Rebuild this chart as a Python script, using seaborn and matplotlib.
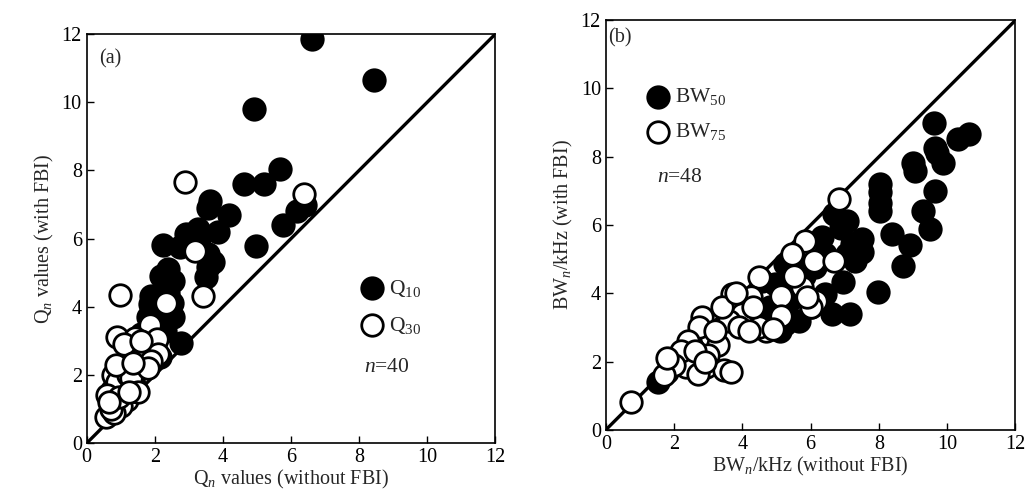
import matplotlib
matplotlib.use("Agg")
import matplotlib.pyplot as plt
import seaborn as sns
import pandas as pd

# ---------------- data ----------------
q10_x = [6.63, 8.43, 4.90, 5.68, 4.61, 5.21, 3.61, 3.56, 4.19, 5.75, 6.19, 4.97, 2.24, 2.92,
         3.26, 3.85, 2.73, 3.56, 3.56, 3.51, 2.39, 2.19, 2.53, 1.90, 1.85, 2.53, 2.19, 2.78,
         2.14, 2.00, 2.40, 1.80, 3.70, 3.30, 2.30, 2.50, 1.60, 2.00, 1.40, 6.40]
q10_y = [11.86, 10.66, 9.79, 8.03, 7.61, 7.59, 7.11, 6.91, 6.69, 6.40, 6.81, 5.79, 5.82, 6.13,
         6.28, 6.18, 5.74, 5.55, 5.16, 4.86, 5.11, 4.91, 4.77, 4.33, 4.08, 3.69, 3.60, 2.93,
         2.52, 3.90, 4.40, 3.70, 5.30, 6.00, 3.30, 4.10, 3.20, 2.90, 2.00, 7.00]
q30_x = [2.90, 6.38, 3.17, 3.41, 0.99, 2.32, 1.85, 0.90, 1.41, 2.07, 2.10, 1.17, 1.48, 1.02,
         0.78, 1.41, 0.73, 1.07, 1.17, 0.73, 0.58, 1.30, 1.60, 0.90, 1.20, 0.60, 1.00, 1.30,
         0.80, 1.50, 0.70, 1.90, 1.10, 0.95, 1.25, 0.65, 1.60, 1.80, 0.85, 1.35]
q30_y = [7.66, 7.32, 5.64, 4.33, 4.35, 4.10, 3.48, 3.11, 3.08, 3.06, 2.62, 2.43, 2.28, 2.18,
         1.99, 1.65, 1.55, 1.65, 1.26, 1.16, 0.77, 2.60, 2.50, 1.80, 2.00, 1.40, 1.10, 1.90,
         0.90, 1.50, 1.00, 2.40, 2.90, 1.35, 1.50, 1.20, 3.00, 2.20, 2.30, 2.35]

bw50_x = [9.61, 10.65, 10.31, 9.63, 9.70, 9.87, 9.00, 9.05, 9.63, 8.03, 8.03, 8.03, 8.03, 9.29,
          9.49, 8.37, 8.90, 8.71, 7.98, 7.06, 6.67, 7.49, 7.20, 7.06, 7.30, 6.96, 6.33, 6.43,
          6.14, 6.62, 7.16, 5.26, 4.97, 4.58, 5.36, 5.26, 5.09, 6.43, 5.65, 1.52, 5.80, 6.90,
          5.50, 6.00, 4.80, 5.60, 7.50, 1.80]
bw50_y = [9.00, 8.66, 8.52, 8.27, 8.10, 7.83, 7.83, 7.59, 7.00, 7.20, 6.96, 6.66, 6.42, 6.42,
          5.88, 5.74, 5.42, 4.81, 4.03, 6.13, 6.32, 5.59, 5.44, 5.15, 4.96, 4.32, 5.64, 5.15,
          4.76, 3.40, 3.40, 4.86, 4.27, 4.37, 3.79, 3.10, 2.91, 3.98, 3.20, 1.40, 4.50, 5.90,
          5.00, 3.60, 3.60, 4.20, 5.20, 1.70]
bw75_x = [6.82, 5.84, 5.46, 6.09, 6.67, 4.49, 5.75, 5.12, 6.17, 6.02, 5.12, 3.71, 3.90, 4.10,
          4.24, 4.68, 4.39, 2.83, 3.08, 2.74, 2.40, 1.91, 2.35, 2.93, 3.47, 2.69, 3.66, 0.75,
          4.00, 3.60, 4.50, 2.20, 2.00, 3.30, 3.00, 4.90, 3.90, 4.30, 3.40, 2.60, 1.70, 5.90,
          4.20, 3.20, 5.50, 2.90, 3.80, 1.80]
bw75_y = [6.76, 5.54, 5.15, 4.96, 4.96, 4.49, 4.18, 3.93, 3.79, 3.59, 3.35, 3.98, 3.69, 3.30,
          3.88, 2.91, 3.10, 3.30, 2.71, 3.00, 2.61, 2.03, 1.83, 1.83, 1.74, 1.64, 1.69, 0.81,
          3.40, 3.20, 3.00, 2.30, 1.90, 2.50, 2.20, 2.95, 3.00, 3.60, 3.60, 2.30, 1.60, 3.90,
          2.90, 2.90, 4.50, 2.00, 4.00, 2.10]

ticks = [0, 2, 4, 6, 8, 10, 12]

# ---------------- style ----------------
sns.set_theme(style="ticks")
plt.rcParams["font.family"] = ["Liberation Serif", "DejaVu Serif"]
plt.rcParams["mathtext.fontset"] = "custom"
plt.rcParams["mathtext.rm"] = "Liberation Serif"
plt.rcParams["mathtext.it"] = "Liberation Serif:italic"
plt.rcParams["xtick.direction"] = "in"
plt.rcParams["ytick.direction"] = "in"

fig = plt.figure(figsize=(10.32, 4.93), dpi=100)
axA = fig.add_axes([0.084, 0.101, 0.396, 0.830])
axB = fig.add_axes([0.587, 0.128, 0.397, 0.831])

S = 240
LW = 2.0
FS = 14.5


def draw(ax, fx, fy, flabel, hx, hy, hlabel):
    dfF = pd.DataFrame({"x": fx, "y": fy})
    dfH = pd.DataFrame({"x": hx, "y": hy})
    sns.scatterplot(data=dfF, x="x", y="y", ax=ax, s=S, color="black",
                    edgecolor="black", linewidth=LW, label=flabel, zorder=3)
    sns.scatterplot(data=dfH, x="x", y="y", ax=ax, s=S, facecolor="white",
                    edgecolor="black", linewidth=LW, label=hlabel, zorder=4)
    ax.axline((0, 0), slope=1, color="black", lw=2.4, zorder=2)
    ax.set_xlim(0, 12)
    ax.set_ylim(0, 12)
    ax.set_xticks(ticks)
    ax.set_yticks(ticks)
    ax.tick_params(labelsize=FS, length=5, width=1, colors="black")
    for sp in ax.spines.values():
        sp.set_linewidth(1.2)
        sp.set_color("black")
        sp.set_visible(True)


draw(axA, q10_x, q10_y, "Q$_{10}$", q30_x, q30_y, "Q$_{30}$")
draw(axB, bw50_x, bw50_y, "BW$_{50}$", bw75_x, bw75_y, "BW$_{75}$")

axA.set_xlabel("Q$_n$ values (without FBI)", fontsize=FS, labelpad=1)
axA.set_ylabel("Q$_n$ values (with FBI)", fontsize=FS)
axB.set_xlabel("BW$_n$/kHz (without FBI)", fontsize=FS, labelpad=1)
axB.set_ylabel("BW$_n$/kHz (with FBI)", fontsize=FS)

legA = axA.legend(loc="upper left", bbox_to_anchor=(0.635, 0.425), frameon=False,
                  fontsize=FS + 1, handletextpad=0.0, labelspacing=0.75, markerscale=1.0,
                  handlelength=1.6, borderaxespad=0)
axA.text(0.735, 0.185, "$n$=40", transform=axA.transAxes, fontsize=FS + 1,
         ha="center", va="center")
axA.text(0.03, 0.94, "(a)", transform=axA.transAxes, fontsize=FS, ha="left", va="center")

legB = axB.legend(loc="upper left", bbox_to_anchor=(0.065, 0.86), frameon=False,
                  fontsize=FS + 1, handletextpad=0.0, labelspacing=0.65, markerscale=1.0,
                  handlelength=1.6, borderaxespad=0)
axB.text(0.18, 0.617, "$n$=48", transform=axB.transAxes, fontsize=FS + 1,
         ha="center", va="center")
axB.text(0.005, 0.956, "(b)", transform=axB.transAxes, fontsize=FS, ha="left", va="center")

fig.savefig("out.png", dpi=100, facecolor="white")
